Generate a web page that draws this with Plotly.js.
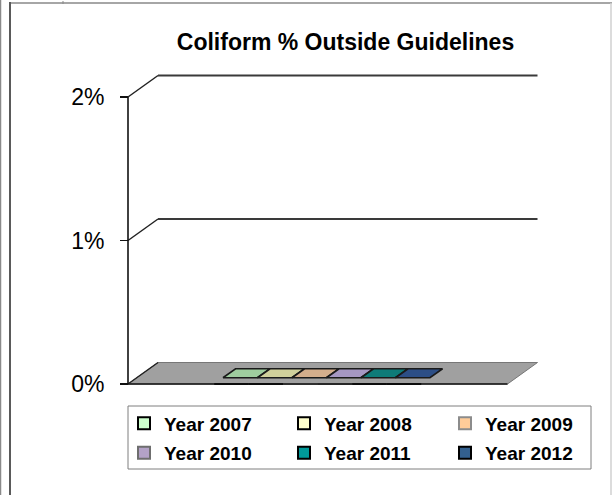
<!DOCTYPE html>
<html><head><meta charset="utf-8">
<script src="https://cdn.plot.ly/plotly-3.0.1.min.js"></script>
<style>html,body{margin:0;padding:0;background:#fff}#chart{width:612px;height:495px}</style>
</head><body><div id="chart"></div>
<script>
// ---------------- data ----------------
const years = ['Year 2007', 'Year 2008', 'Year 2009', 'Year 2010', 'Year 2011', 'Year 2012'];
const pctOutside = [0, 0, 0, 0, 0, 0];          // % of coliform samples outside guidelines
const tickValues = [0, 1, 2];
const tickLabels = ['0%', '1%', '2%'];
const chartTitle = 'Coliform % Outside Guidelines';

// ---------------- styles ----------------
const legendFill = ['#ccffcc', '#ffffcc', '#ffcc99', '#b3a2c7', '#009999', '#33608f'];
const legendLine = ['#000000', '#000000', '#8c8c8c', '#6e6e6e', '#000000', '#000000'];
const faceFill   = ['#9fcd9f', '#d0d09c', '#d3ae8c', '#a597c2', '#0e7b78', '#2c4e86'];

const W = 612, H = 495;
const M = {l: 0, r: 60, t: 60, b: 100};
const plotW = W - M.l - M.r, plotH = H - M.t - M.b;
const pxPerX = 34.5, pxPerY = 143.5, axisPx = 128, zeroPy = 384;
const xmin = -(axisPx - M.l) / pxPerX, xmax = xmin + plotW / pxPerX;
const ymin = -(M.t + plotH - zeroPy) / pxPerY, ymax = ymin + plotH / pxPerY;
const DX = 30 / pxPerX, DY = 21.5 / pxPerY;   // oblique depth of the floor
const floorW = 11, barGap = 2.5, d0 = 0.29, d1 = 0.71;
const pX = px => (px - M.l) / plotW;
const pY = py => (M.t + plotH - py) / plotH;

const traces = [];
// 3D-look bars (box projected obliquely), built from values
years.forEach((yr, i) => {
  const v = pctOutside[i];
  const x0 = barGap + i, x1 = x0 + 1;
  const fx0 = x0 + d0 * DX, fx1 = x1 + d0 * DX, fy = d0 * DY;
  const bx0 = x0 + d1 * DX, bx1 = x1 + d1 * DX, by = d1 * DY;
  traces.push({
    type: 'scatter', mode: 'lines', fill: 'toself', fillcolor: faceFill[i],
    x: [fx0, fx1, bx1, bx1, bx0, fx0, fx0],
    y: [fy, fy, by, v + by, v + by, v + fy, fy],
    line: {color: '#1a1a1a', width: 1.6}, showlegend: false, hoverinfo: 'skip'
  });
});
// legend carriers: real bar traces with the same values
years.forEach((yr, i) => {
  traces.push({
    type: 'bar', name: yr, x: [barGap + i + 0.5], y: [pctOutside[i]], width: [1],
    marker: {color: legendFill[i], line: {color: legendLine[i], width: 2}},
    legend: i === 0 ? 'legend' : 'legend' + (i + 1), hoverinfo: 'skip'
  });
});

const shapes = [];
// floor
shapes.push({type: 'path', xref: 'x', yref: 'y', layer: 'below',
  path: `M0,0 L${floorW},0 L${floorW + DX},${DY} L${DX},${DY} Z`,
  fillcolor: '#a0a0a0', line: {color: '#777', width: 1}});
shapes.push({type: 'line', xref: 'x', yref: 'y', x0: 0, y0: 0, x1: floorW, y1: 0, line: {color: '#111', width: 1.6}});
// gridlines (front diagonal + back wall line)
tickValues.forEach(t => {
  shapes.push({type: 'line', xref: 'x', yref: 'y', x0: 0, y0: t, x1: DX, y1: t + DY, line: {color: '#222', width: 1.5}});
  if (t > 0) shapes.push({type: 'line', xref: 'x', yref: 'y', x0: DX, y0: t + DY, x1: floorW + DX, y1: t + DY, line: {color: '#3a3a3a', width: 2}});
});
// vertical value axis
shapes.push({type: 'line', xref: 'x', yref: 'y', x0: 0, y0: 0, x1: 0, y1: tickValues[tickValues.length - 1], line: {color: '#111', width: 1.6}});
// legend frame
shapes.push({type: 'rect', xref: 'paper', yref: 'paper', x0: pX(128), x1: pX(591), y0: pY(406), y1: pY(469), line: {color: '#7f7f7f', width: 1}, fillcolor: 'rgba(0,0,0,0)'});
// sheet / chart borders
shapes.push({type: 'line', xref: 'paper', yref: 'paper', x0: pX(10), x1: pX(612), y0: pY(3), y1: pY(3), line: {color: '#a6a6a6', width: 2}});
shapes.push({type: 'line', xref: 'paper', yref: 'paper', x0: pX(10), x1: pX(10), y0: pY(2), y1: pY(495), line: {color: '#5a5a5a', width: 2}});
shapes.push({type: 'line', xref: 'paper', yref: 'paper', x0: pX(0.5), x1: pX(0.5), y0: pY(0), y1: pY(495), line: {color: '#8a8a8a', width: 1.5}});
shapes.push({type: 'line', xref: 'paper', yref: 'paper', x0: pX(611), x1: pX(611), y0: pY(3), y1: pY(495), line: {color: '#d0d0d0', width: 1.5}});
shapes.push({type: 'line', xref: 'paper', yref: 'paper', x0: pX(63), x1: pX(63), y0: pY(1), y1: pY(4), line: {color: '#888', width: 1}});

const legFont = {family: 'Liberation Sans, Arial, sans-serif', size: 19, color: '#000', weight: 'bold'};
const colPx = [124, 284, 445], rowPy = [423.5, 453];
const layout = {
  width: W, height: H, margin: M,
  paper_bgcolor: '#fff', plot_bgcolor: 'rgba(0,0,0,0)',
  barmode: 'overlay',
  title: {text: '<b>' + chartTitle + '</b>', font: {family: 'Liberation Sans, Arial, sans-serif', size: 23, color: '#000'},
          xref: 'container', x: 345.5 / W, xanchor: 'center', yref: 'container', y: 1 - 42 / H, yanchor: 'middle'},
  xaxis: {range: [xmin, xmax], visible: false, fixedrange: true},
  yaxis: {range: [ymin, ymax], anchor: 'free', position: pX(axisPx), showgrid: false, zeroline: false, showline: false,
          tickvals: tickValues, ticktext: tickLabels, ticks: 'outside', ticklen: 8, tickwidth: 1.5, tickcolor: '#111',
          ticklabelstandoff: 11, tickfont: {family: 'Liberation Sans, Arial, sans-serif', size: 23, color: '#000'}, automargin: false},
  shapes: shapes
};
years.forEach((yr, i) => {
  const key = i === 0 ? 'legend' : 'legend' + (i + 1);
  layout[key] = {x: pX(colPx[i % 3]), y: pY(rowPy[Math.floor(i / 3)]), xanchor: 'left', yanchor: 'middle',
    orientation: 'h', bgcolor: 'rgba(0,0,0,0)', borderwidth: 0, font: legFont};
});

Plotly.newPlot('chart', traces, layout, {staticPlot: true, displayModeBar: false});
</script>
</body></html>
